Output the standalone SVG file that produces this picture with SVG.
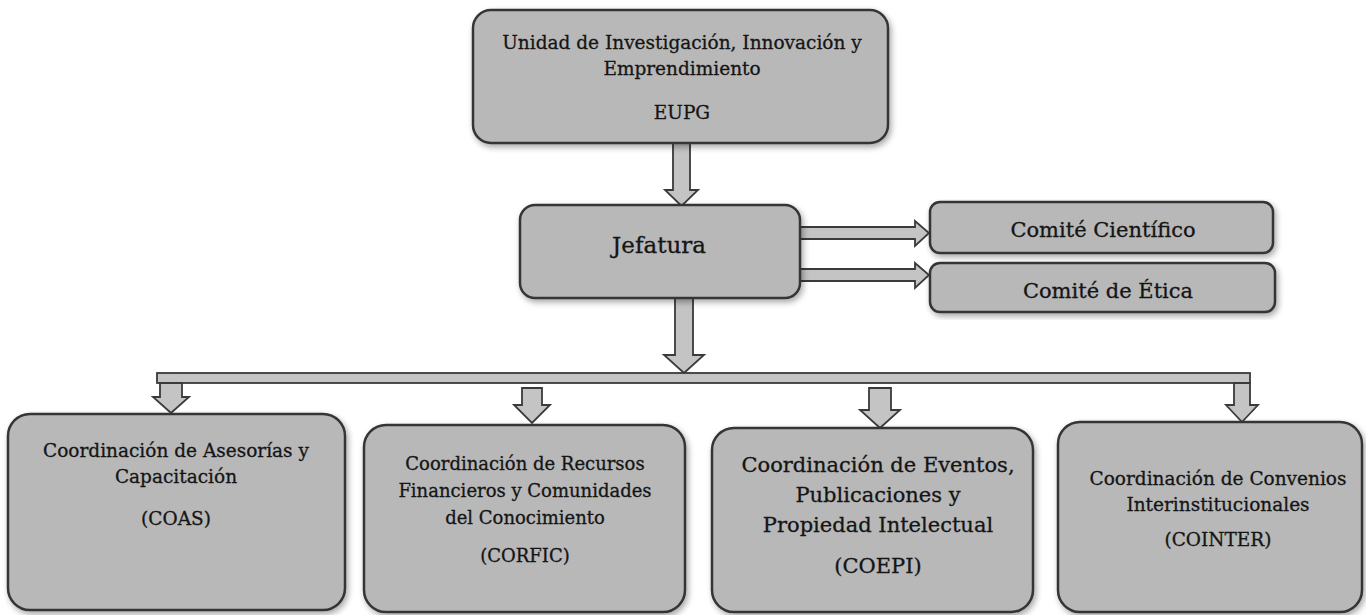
<svg xmlns="http://www.w3.org/2000/svg" width="1366" height="615" viewBox="0 0 1366 615">
<defs>
<filter id="sh" x="-10%" y="-10%" width="120%" height="125%">
<feGaussianBlur in="SourceAlpha" stdDeviation="3"/>
<feOffset dx="2" dy="3" result="b"/>
<feComponentTransfer><feFuncA type="linear" slope="0.35"/></feComponentTransfer>
<feMerge><feMergeNode/><feMergeNode in="SourceGraphic"/></feMerge>
</filter>
</defs>
<style>
.box{fill:#b8b8b8;stroke:#353535;stroke-width:2.5}
.arr{fill:#c4c4c4;stroke:#3a3a3a;stroke-width:1.8;stroke-linejoin:miter}
text{font-family:"DejaVu Serif","Liberation Serif",serif;fill:#151515;stroke:#151515;stroke-width:0.3;text-anchor:middle}
.t{font-size:18.5px}
.j{font-size:23px}
.k{font-size:21px}
.b1{font-size:18.5px}
.b2{font-size:18px}
.b3{font-size:21px}
.b4{font-size:18.5px}
</style>
<rect width="1366" height="615" fill="#ffffff"/>
<g id="connectors">
<polygon class="arr" points="673,143 690,143 690,190 698,190 681.5,206 665,190 673,190"/>
<polygon class="arr" points="675,298 693,298 693,355 704,355 684,373 664,355 675,355"/>
<polygon class="arr" points="800,227 915,227 915,221 929,233 915,246 915,239 800,239"/>
<polygon class="arr" points="800,269 915,269 915,263 929,275 915,288 915,281 800,281"/>
<rect class="arr" x="157" y="373" width="1093" height="10"/>
<polygon class="arr" points="160,383 182,383 182,397 189,397 171,413 153,397 160,397"/>
<polygon class="arr" points="522,388 542,388 542,405 550,405 532,423 514,405 522,405"/>
<polygon class="arr" points="869,388 891,388 891,410 900,410 880,428 860,410 869,410"/>
<polygon class="arr" points="1234,383 1250,383 1250,405 1258,405 1242,422 1226,405 1234,405"/>
</g>
<g id="unidad">
<rect class="box" x="473" y="10" width="415" height="133" rx="18" filter="url(#sh)"/>
<text class="t" x="682" y="49">Unidad de Investigación, Innovación y</text>
<text class="t" x="682" y="75">Emprendimiento</text>
<text class="t" x="682" y="119">EUPG</text>
</g>
<g id="jefatura">
<rect class="box" x="520" y="205" width="280" height="93" rx="15" filter="url(#sh)"/>
<text class="j" x="659" y="253">Jefatura</text>
</g>
<g id="comite-cientifico">
<rect class="box" x="930" y="202" width="343" height="51" rx="10" filter="url(#sh)"/>
<text class="k" x="1103" y="237">Comité Científico</text>
</g>
<g id="comite-etica">
<rect class="box" x="930" y="263" width="345" height="49" rx="10" filter="url(#sh)"/>
<text class="k" x="1108" y="298">Comité de Ética</text>
</g>
<g id="coas">
<rect class="box" x="8" y="414" width="337" height="196" rx="22" filter="url(#sh)"/>
<text class="b1" x="176" y="457">Coordinación de Asesorías y</text>
<text class="b1" x="176" y="483">Capacitación</text>
<text class="b1" x="176" y="525">(COAS)</text>
</g>
<g id="corfic">
<rect class="box" x="364" y="425" width="321" height="187" rx="22" filter="url(#sh)"/>
<text class="b2" x="525" y="470">Coordinación de Recursos</text>
<text class="b2" x="525" y="497">Financieros y Comunidades</text>
<text class="b2" x="525" y="524">del Conocimiento</text>
<text class="b2" x="525" y="562">(CORFIC)</text>
</g>
<g id="coepi">
<rect class="box" x="712" y="428" width="321" height="184" rx="22" filter="url(#sh)"/>
<text class="b3" x="878" y="472">Coordinación de Eventos,</text>
<text class="b3" x="878" y="502">Publicaciones y</text>
<text class="b3" x="878" y="532">Propiedad Intelectual</text>
<text class="b3" x="878" y="573">(COEPI)</text>
</g>
<g id="cointer">
<rect class="box" x="1058" y="422" width="304" height="190" rx="22" filter="url(#sh)"/>
<text class="b4" x="1218" y="485">Coordinación de Convenios</text>
<text class="b4" x="1218" y="511">Interinstitucionales</text>
<text class="b4" x="1218" y="546">(COINTER)</text>
</g>
</svg>
